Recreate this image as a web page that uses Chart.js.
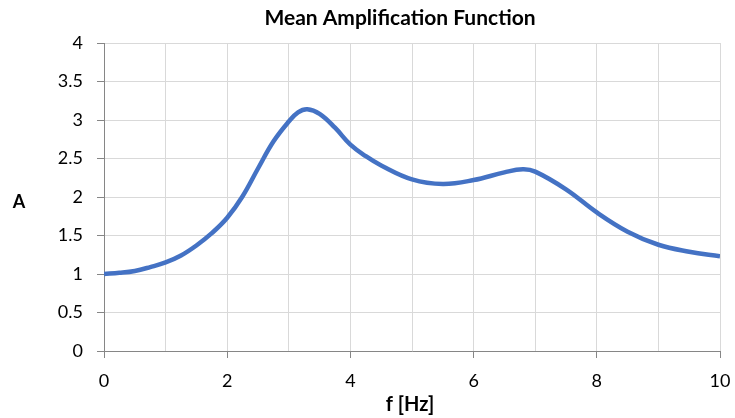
<!DOCTYPE html>
<html><head><meta charset="utf-8">
<script src="https://cdn.jsdelivr.net/npm/chart.js@4/dist/chart.umd.min.js"></script>
<style>html,body{margin:0;padding:0;background:#fff;}#wrap{width:735px;height:418px;}</style>
</head><body><div id="wrap"><canvas id="c" width="735" height="418"></canvas></div>
<script>
const chartTitle = "Mean Amplification Function";
const xTitle = "f [Hz]";
const yTitle = "A";
const freq = [0, 0.25, 0.5, 0.75, 1, 1.25, 1.5, 1.75, 2, 2.25, 2.5, 2.75, 3, 3.15, 3.3, 3.5, 3.75, 4, 4.25, 4.5, 5, 5.5, 6, 6.5, 6.8, 7, 7.5, 8, 8.5, 9, 9.5, 10];
const amp  = [1.00, 1.015, 1.04, 1.09, 1.15, 1.24, 1.37, 1.53, 1.73, 2.01, 2.37, 2.72, 2.98, 3.10, 3.14, 3.08, 2.90, 2.68, 2.53, 2.41, 2.23, 2.17, 2.22, 2.32, 2.36, 2.33, 2.10, 1.80, 1.55, 1.38, 1.29, 1.23];

const FONT = "Lato, 'Liberation Sans', sans-serif";
const textPlugin = {
  id: 'texts',
  afterDraw(chart) {
    const ctx = chart.ctx;
    ctx.save();
    ctx.fillStyle = '#000';
    ctx.textAlign = 'center';
    ctx.textBaseline = 'middle';
    ctx.font = "bold 21px " + FONT;
    ctx.fillText(chartTitle, 400, 18);
    ctx.font = "bold 20px " + FONT;
    ctx.fillText(xTitle, 410, 405);
    ctx.font = "bold 18px " + FONT;
    ctx.fillText(yTitle, 19, 202);
    ctx.restore();
  }
};

new Chart(document.getElementById('c'), {
  type: 'line',
  data: {
    datasets: [{
      data: freq.map((f, i) => ({x: f, y: amp[i]})),
      borderColor: '#4472C4',
      borderWidth: 4.5,
      pointRadius: 0,
      tension: 0.4,
      fill: false
    }]
  },
  options: {
    responsive: false,
    animation: false,
    layout: {padding: {top: 43, right: 15, bottom: 0, left: 0}},
    plugins: {legend: {display: false}, tooltip: {enabled: false}},
    scales: {
      x: {
        type: 'linear', min: 0, max: 10,
        afterFit: s => { s.height = 67; s.paddingRight = 0; s.paddingLeft = 0; },
        ticks: {
          stepSize: 1, autoSkip: false, maxRotation: 0,
          padding: 12,
          color: '#000',
          font: {family: FONT, size: 18},
          callback: v => (v % 2 === 0 ? String(v) : '')
        },
        grid: {
          color: '#d9d9d9', lineWidth: 1, tickLength: 7,
          tickColor: c => (c.tick && c.tick.value % 2 === 0 ? '#868686' : 'rgba(0,0,0,0)')
        },
        border: {color: '#868686', width: 1}
      },
      y: {
        min: 0, max: 4,
        afterFit: s => { s.width = 104; s.paddingTop = 0; s.paddingBottom = 0; },
        ticks: {
          stepSize: 0.5, padding: 14,
          color: '#000',
          font: {family: FONT, size: 18},
          callback: v => String(Math.round(v * 10) / 10)
        },
        grid: {color: '#d9d9d9', lineWidth: 1, tickLength: 7, tickColor: '#868686'},
        border: {color: '#868686', width: 1}
      }
    }
  },
  plugins: [textPlugin]
});
</script>
</body></html>
